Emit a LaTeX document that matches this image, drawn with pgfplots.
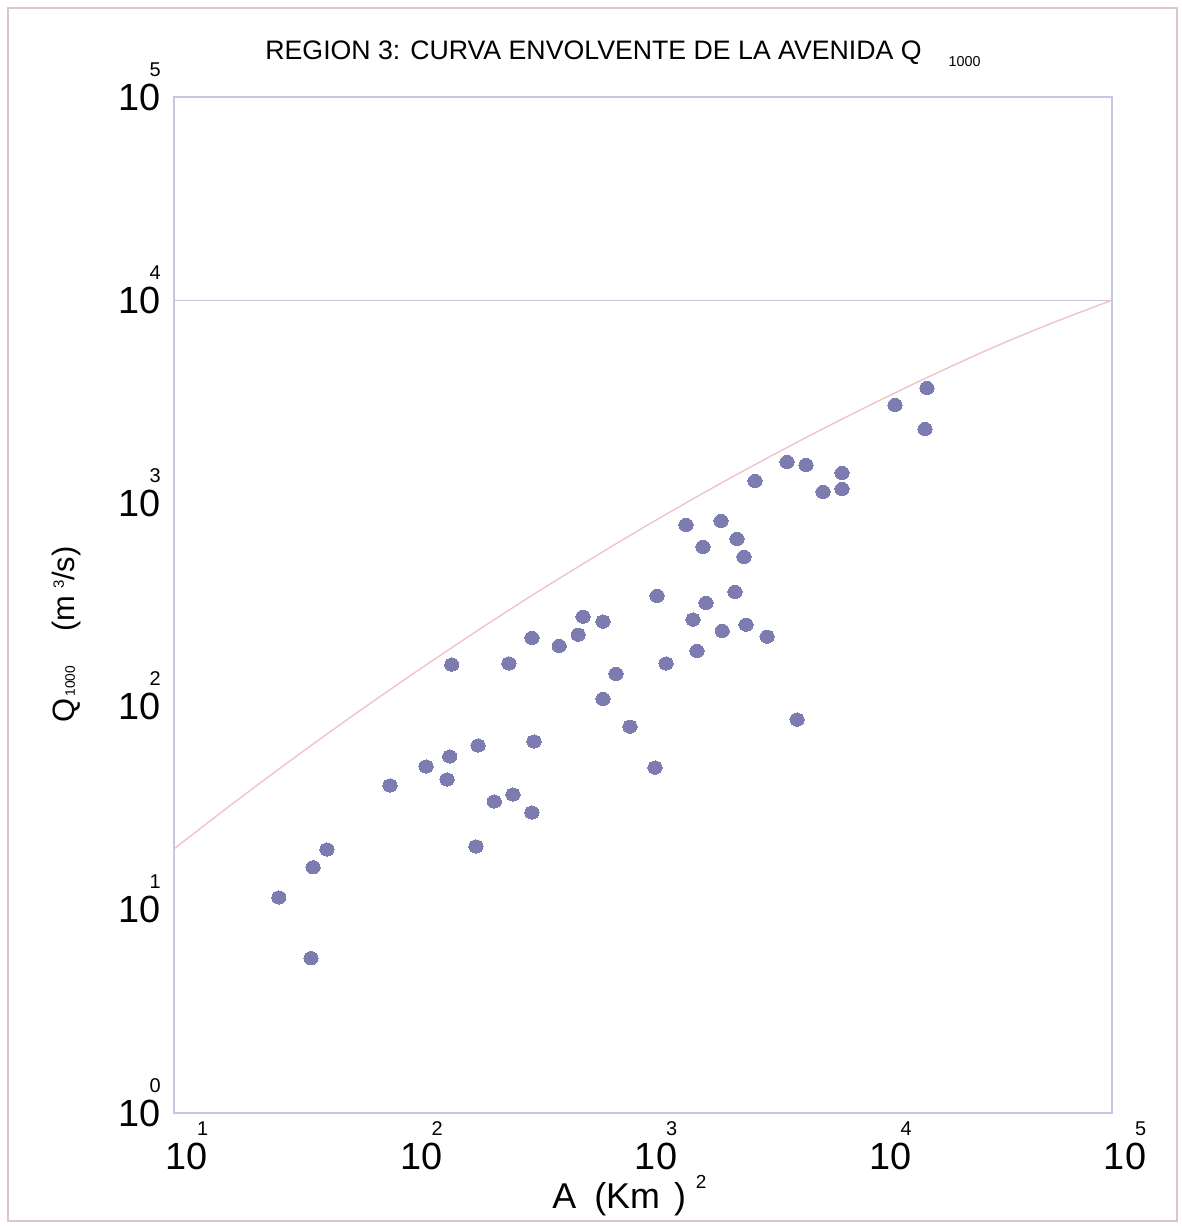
\documentclass[border=0pt]{standalone}
\usepackage{pgfplots}
\pgfplotsset{compat=1.18}
\usepackage{fontspec}
\setmainfont{Liberation Sans}
\definecolor{mk}{RGB}{124,124,176}
\definecolor{env}{RGB}{240,194,205}
\definecolor{frm}{RGB}{198,198,230}
\definecolor{outer}{RGB}{222,196,206}
\newcommand\lab[1]{10\rlap{\hspace{-5.5bp}\smash{\raisebox{17bp}{\fontsize{10}{10}\selectfont #1}}}}
\begin{document}
\begin{tikzpicture}
\begin{axis}[
  at={(0,0)}, anchor=south west,
  scale only axis, width=469bp, height=508bp,
  xmode=log, ymode=log,
  xmin=10, xmax=100000, ymin=1, ymax=100000,
  xtick={10,100,1000,10000,100000},
  xticklabels={\lab{1},\lab{2},\lab{3},\lab{4},\lab{5}},
  ytick={1,10,100,1000,10000,100000},
  yticklabels={\lab{0},\lab{1},\lab{2},\lab{3},\lab{4},\lab{5}},
  xminorticks=false, yminorticks=false,
  major tick length=0pt,
  tick style={draw=none},
  axis line style={draw=frm, line width=0.6bp},
  ticklabel style={font=\fontsize{19}{19}\selectfont, inner sep=0pt},
  xticklabel style={anchor=north, yshift=-15bp, xshift=6.5bp},
  yticklabel style={anchor=east, xshift=-6.5bp},
  clip=false,
]
% horizontal line at 10^4
\addplot[draw=frm, line width=0.6bp] coordinates {(10,10000) (100000,10000)};
% envelope curve
\addplot[draw=env, line width=0.7bp, smooth] coordinates {
  (10,19.95) (17.8,33.3) (31.6,54.6) (56.2,88.1) (100,140) (178,219)
  (316,337) (562,509) (1000,759) (1778,1112) (3162,1603) (5623,2275)
  (10000,3177) (17783,4365) (31623,5902) (56234,7762) (100000,10000)};
% observed data
\addplot[only marks, mark=*, mark size=3.3bp, mark options={fill=mk, draw=mk, line width=0pt, xscale=1.08}] coordinates {
  (28.0,11.5) (38.4,5.78) (39.2,16.2) (44.9,19.8) (83.4,40.9) (118.8,50.7)
  (146,43.8) (150,56.8) (153,161) (198,64.3) (194,20.5) (232,34.1)
  (268,163) (279,36.9) (336,218) (343,67.3) (336,30.1) (439,199)
  (529,226) (555,277) (675,262) (675,109) (767,145) (880,79.7)
  (1125,50.1) (1148,351) (1254,163) (1525,784) (1634,268) (1699,188)
  (1802,611) (1856,324) (2153,820) (2175,236) (2468,367) (2517,669)
  (2697,546) (2750,253) (3005,1290) (3382,221) (4115,1600) (4538,86.3)
  (4957,1545) (5859,1140) (7063,1413) (7063,1178) (11880,3049)
  (15950,2323) (16250,3697)};
\end{axis}
% title
\node[anchor=base west, inner sep=0pt] at (45.5bp,526.5bp)
  {\fontsize{13.4}{13.4}\selectfont REGION 3: CURVA ENVOLVENTE DE LA AVENIDA Q\hspace{13.5bp}\raisebox{-3.5bp}{\fontsize{7.2}{7.2}\selectfont 1000}};
% x label
\node[anchor=base west, inner sep=0pt] at (189bp,-47.5bp)
  {\fontsize{18}{18}\selectfont A\hspace{4bp} (Km\hspace{7bp})\hspace{5bp}\raisebox{10bp}{\fontsize{9.5}{9.5}\selectfont 2}};
% y label
\node[anchor=base west, inner sep=0pt, rotate=90] at (-49.5bp,195bp)
  {\fontsize{15.5}{15.5}\selectfont Q\hspace{1bp}{\fontsize{6.9}{6.9}\selectfont 1000}\hspace{17bp}(m\hspace{3.5bp}\raisebox{5.5bp}{\fontsize{7.5}{7.5}\selectfont 3}/s)};
% outer frame
\draw[outer, line width=0.7bp] (-83bp,-54bp) rectangle (501.5bp,552.5bp);
\pgfresetboundingbox
\path[use as bounding box] (-87bp,-56.5bp) rectangle (504bp,556.5bp);
\end{tikzpicture}
\end{document}
